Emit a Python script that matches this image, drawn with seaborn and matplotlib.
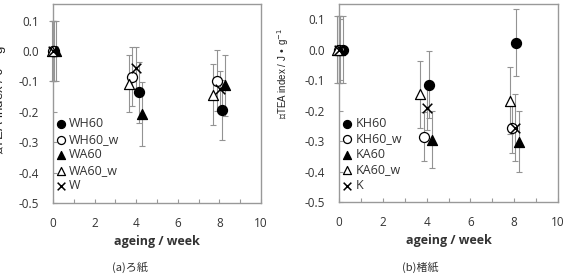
import numpy as np
import pandas as pd
import matplotlib
matplotlib.use("Agg")
import matplotlib.pyplot as plt
import seaborn as sns

sns.set_theme(style="white")
plt.rcParams['font.family'] = ['Open Sans', 'DejaVu Sans']

# --- data ---
a_labels = ["WH60", "WH60_w", "WA60", "WA60_w", "W"]
a_x = [[0.05, 4.13, 8.11], [0.0, 3.81, 7.90], [0.15, 4.27, 8.27], [-0.05, 3.67, 7.71], [0.0, 3.99, 8.03]]
a_y = [[0.0, -0.136, -0.194], [0.0, -0.085, -0.098], [0.0, -0.207, -0.112], [0.0, -0.107, -0.144], [0.0, -0.056, -0.125]]
a_err = [[0.10, 0.10, 0.10], [0.10, 0.097, 0.10], [0.10, 0.105, 0.10], [0.10, 0.095, 0.10], [0.10, 0.07, 0.06]]

b_labels = ["KH60", "KH60_w", "KA60", "KA60_w", "K"]
b_x = [[0.18, 4.12, 8.09], [0.0, 3.88, 7.92], [0.05, 4.23, 8.20], [-0.1, 3.69, 7.79], [0.0, 4.00, 8.02]]
b_y = [[0.0, -0.115, 0.022], [0.0, -0.286, -0.258], [0.0, -0.295, -0.302], [0.0, -0.146, -0.168], [0.0, -0.192, -0.256]]
b_err = [[0.11, 0.11, 0.11], [0.11, 0.08, 0.08], [0.11, 0.095, 0.10], [0.11, 0.11, 0.11], [0.11, 0.07, 0.11]]

yticks = [-0.5, -0.4, -0.3, -0.2, -0.1, 0.0, 0.1]
ytick_labels = ["-0.5", "-0.4", "-0.3", "-0.2", "-0.1", "0.0", "0.1"]

# marker, face colour per series (same order in both panels)
styles = [("o", "black"), ("o", "white"), ("^", "black"), ("^", "white"), ("x", "black")]

GRAY = "#999999"

fig = plt.figure(figsize=(5.64, 2.79), dpi=100)
ax_a = fig.add_axes([53 / 564, 1 - 203 / 279, 208 / 564, 199 / 279])
ax_b = fig.add_axes([339 / 564, 1 - 202 / 279, 219 / 564, 198 / 279])


def draw_panel(ax, labels, xs, ys, errs, ytop):
    # error bars behind the markers
    for x, y, e in zip(xs, ys, errs):
        ax.errorbar(x, y, yerr=e, fmt="none", ecolor="#939393", elinewidth=0.8,
                    capsize=2.5, capthick=0.8, zorder=1, clip_on=False)
    for lab, x, y, (mk, fc) in zip(labels, xs, ys, styles):
        df = pd.DataFrame({"week": x, "val": y})
        if mk == "x":
            sns.scatterplot(data=df, x="week", y="val", marker="x", color="black",
                            s=48, linewidth=1.1, label=lab, ax=ax, zorder=3, clip_on=False)
        else:
            sns.scatterplot(data=df, x="week", y="val", marker=mk, color=fc,
                            edgecolor="black", linewidth=0.9, s=52, label=lab,
                            ax=ax, zorder=3, clip_on=False)

    ax.set_xlim(0, 10)
    ax.set_ylim(-0.5, ytop)
    ax.set_xticks(range(0, 11, 2))
    ax.set_xticks(range(1, 10, 2), minor=True)
    ax.set_yticks(yticks)
    ax.set_yticklabels(ytick_labels)
    ax.tick_params(which="both", direction="in", color=GRAY, length=3, width=0.8,
                   labelsize=8.5, labelcolor="#333333", pad=10, bottom=True, left=True)
    for sp in ax.spines.values():
        sp.set_color(GRAY)
        sp.set_linewidth(1.0)
    ax.set_xlabel("ageing / week", fontsize=9, fontweight="bold", color="#333333", labelpad=4)
    ax.set_ylabel("")
    ax.legend(loc="upper left", bbox_to_anchor=(0.015, 0.43), frameon=False,
              fontsize=9, handlelength=0.8, handletextpad=0.25, labelspacing=0.2,
              borderpad=0, borderaxespad=0, markerscale=0.8, labelcolor="#333333")


draw_panel(ax_a, a_labels, a_x, a_y, a_err, 0.155)
draw_panel(ax_b, b_labels, b_x, b_y, b_err, 0.15)

# y label: the left one is cut by the figure edge, as in the reference
ylab = "⊿TEA index / J • g$^{-1}$"
lab_font = ['Liberation Sans', 'Noto Sans CJK JP', 'DejaVu Sans']
fig.text(0 / 564, 1 - 92 / 279, ylab, rotation=90, ha="center", va="center",
         fontsize=9.5, family=lab_font, color="#222222")
fig.text(283 / 564, 1 - 73 / 279, ylab, rotation=90, ha="center", va="center",
         fontsize=7, family=lab_font, color="#222222")

cap_font = ['Noto Sans CJK JP', 'DejaVu Sans']
fig.text(130 / 564, 1 - 267 / 279, "(a)ろ紙", ha="center", va="center",
         fontsize=8, family=cap_font, color="#333333")
fig.text(420 / 564, 1 - 267 / 279, "(b)楮紙", ha="center", va="center",
         fontsize=8, family=cap_font, color="#333333")

fig.savefig("out.png", dpi=100)
